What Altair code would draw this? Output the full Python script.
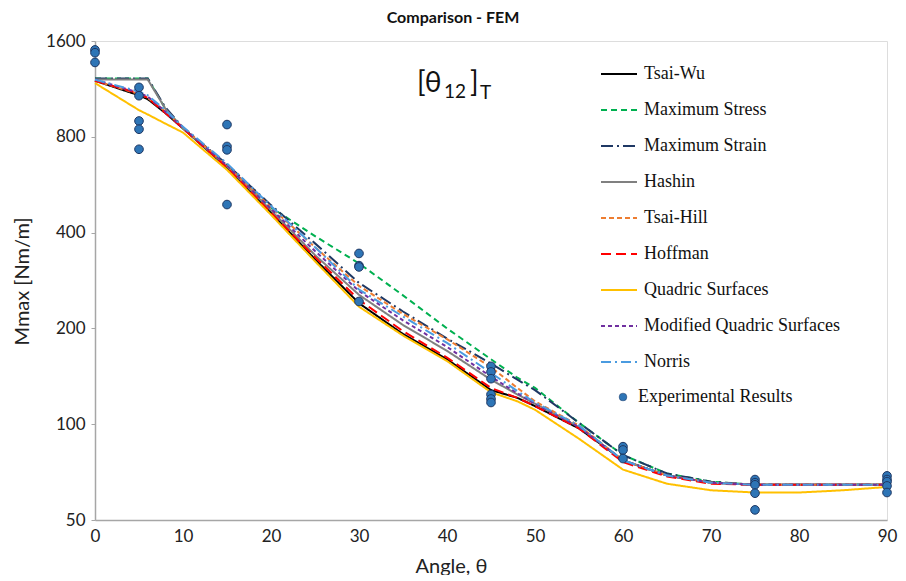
import altair as alt
import pandas as pd

# ---------------- data ----------------
angles = [0, 5, 6, 8, 10, 15, 20, 25, 30, 35, 40, 45, 48, 50, 55, 60, 65, 70, 75, 80, 85, 90]

series_names = ["Tsai-Wu", "Maximum Stress", "Maximum Strain", "Hashin", "Tsai-Hill",
                "Hoffman", "Quadric Surfaces", "Modified Quadric Surfaces", "Norris"]

tsai_wu      = [1200, 1080, 1050, 950, 850, 640, 462, 330, 240, 192, 160, 128, 121, 114, 97, 77, 69, 65.5, 64.5, 64.5, 64.5, 64.5]
max_stress   = [1220, 1220, 1220, 980, 850, 650, 480, 390, 320, 254, 200, 160, 140, 130, 101, 80, 70, 66, 64.5, 64.5, 64.5, 64.5]
max_strain   = [1220, 1220, 1220, 990, 855, 655, 488, 370, 278, 226, 186, 155, 138, 128, 101, 80, 70, 66, 64.5, 64.5, 64.5, 64.5]
hashin       = [1210, 1210, 1210, 980, 850, 645, 470, 340, 255, 205, 170, 138, 124, 116, 98, 77, 69, 65.5, 64.5, 64.5, 64.5, 64.5]
tsai_hill    = [1200, 1090, 1060, 960, 855, 650, 480, 360, 272, 222, 185, 151, 130, 118, 99, 77, 69, 65.5, 64.5, 64.5, 64.5, 64.5]
hoffman      = [1200, 1095, 1060, 950, 850, 640, 462, 335, 246, 196, 162, 130, 121, 114, 97, 76, 68.5, 65, 64.5, 64.5, 64.5, 64.5]
quadric      = [1180, 970, 940, 880, 825, 630, 455, 325, 234, 190, 158, 126, 118, 111, 90, 72, 65, 62, 61, 61, 62, 63.5]
mod_quadric  = [1210, 1100, 1070, 960, 855, 650, 475, 350, 262, 212, 175, 141, 125, 116, 98, 77, 69, 65.5, 64.5, 64.5, 64.5, 64.5]
norris       = [1210, 1110, 1080, 970, 860, 660, 485, 360, 265, 218, 180, 145, 127, 117, 99, 77, 69, 65.5, 64.5, 64.5, 64.5, 64.5]

series_values = [tsai_wu, max_stress, max_strain, hashin, tsai_hill, hoffman, quadric, mod_quadric, norris]

series_colors = ["#000000", "#00B050", "#1F3864", "#808080", "#ED7D31",
                 "#FF0000", "#FFC000", "#7030A0", "#4A9BE0"]
series_dashes = [[1, 0], [6, 4], [12, 4, 2, 4], [1, 0], [5, 3],
                 [10, 5], [1, 0], [4, 3], [10, 4, 2, 4]]

exp_angles = [0, 0, 0,
              5, 5, 5, 5, 5,
              15, 15, 15, 15,
              30, 30, 30, 30,
              45, 45, 45, 45, 45, 45,
              60, 60, 60,
              75, 75, 75, 75, 75,
              90, 90, 90, 90, 90]
exp_values = [1500, 1470, 1370,
              1144, 1077, 897, 845, 731,
              874, 746, 728, 490,
              344, 315, 312, 243,
              152, 146, 139, 124, 120, 117,
              85, 83, 78,
              67, 65.5, 64.5, 60.7, 53.8,
              68.8, 67, 66, 64, 61]

y_ticks = [50, 100, 200, 400, 800, 1600]
x_ticks = [0, 10, 20, 30, 40, 50, 60, 70, 80, 90]

# ---------------- tables ----------------
rows = []
for name, vals in zip(series_names, series_values):
    for a, v in zip(angles, vals):
        rows.append({"angle": a, "M": v, "series": name})
lines_df = pd.DataFrame(rows)
exp_df = pd.DataFrame({"angle": exp_angles, "M": exp_values,
                       "kind": ["Experimental Results"] * len(exp_angles)})

FONT = "Lato"
SERIF = "Liberation Serif"

x_enc = alt.X("angle:Q", scale=alt.Scale(domain=[0, 90], nice=False),
              axis=alt.Axis(values=x_ticks, title="Angle, θ", grid=False, labelFlush=False,
                            labelFont=FONT, labelFontSize=17, labelColor="#222",
                            titleFont=FONT, titleFontSize=20, titleFontWeight="normal",
                            titleColor="#222", domainColor="#A6A6A6", domainWidth=1.5,
                            ticks=False, labelPadding=8,
                            titleX=356, titleY=52, titleBaseline="alphabetic"))
y_enc = alt.Y("M:Q", scale=alt.Scale(type="log", base=2, domain=[50, 1600], nice=False),
              axis=alt.Axis(values=y_ticks, title="Mmax [Nm/m]", grid=False, format="d",
                            labelFlush=False,
                            labelFont=FONT, labelFontSize=17, labelColor="#222",
                            titleFont=FONT, titleFontSize=20, titleFontWeight="normal",
                            titleColor="#222", domainColor="#A6A6A6", domainWidth=1.5,
                            ticks=True, tickSize=4, tickColor="#A6A6A6", labelPadding=6,
                            titleX=-73, titleY=240, titleAngle=-90,
                            titleAlign="center", titleBaseline="middle"))

line_legend = alt.Legend(title=None, orient="none", legendX=505, legendY=14,
                         symbolType="stroke", symbolSize=1296,
                         symbolStrokeWidth=2, rowPadding=8, padding=0, labelOffset=6,
                         labelFont=SERIF, labelFontSize=18, labelColor="#111", labelLimit=300)

lines = alt.Chart(lines_df).mark_line(strokeWidth=2).encode(
    x=x_enc,
    y=y_enc,
    color=alt.Color("series:N",
                    scale=alt.Scale(domain=series_names, range=series_colors),
                    legend=line_legend),
    strokeDash=alt.StrokeDash("series:N",
                              scale=alt.Scale(domain=series_names, range=series_dashes),
                              legend=line_legend),
    order="series:N",
)

points = alt.Chart(exp_df).mark_point(filled=True, size=75, stroke="#1F3864",
                                      strokeWidth=1, opacity=1).encode(
    x="angle:Q",
    y="M:Q",
    fill=alt.Fill("kind:N", scale=alt.Scale(domain=["Experimental Results"], range=["#2E75B6"]),
                  legend=alt.Legend(title=None, orient="none", legendX=505, legendY=347,
                                    symbolType="circle", symbolSize=60,
                                    symbolStrokeColor="#1F3864", symbolStrokeWidth=0.5,
                                    padding=0, labelOffset=6, symbolOffset=14,
                                    labelFont=SERIF, labelFontSize=18, labelColor="#111",
                                    labelLimit=300)),
)

# annotation [θ12]T
ann_main = alt.Chart(pd.DataFrame({"t": ["[θ"]})).mark_text(
    font=FONT, fontSize=28, align="left", baseline="alphabetic", color="#111"
).encode(text="t:N", x=alt.value(322), y=alt.value(51))
ann_sub = alt.Chart(pd.DataFrame({"t": ["12"]})).mark_text(
    font=FONT, fontSize=19, align="left", baseline="alphabetic", color="#111"
).encode(text="t:N", x=alt.value(349), y=alt.value(57))
ann_br = alt.Chart(pd.DataFrame({"t": ["]"]})).mark_text(
    font=FONT, fontSize=28, align="left", baseline="alphabetic", color="#111"
).encode(text="t:N", x=alt.value(375), y=alt.value(51))
ann_T = alt.Chart(pd.DataFrame({"t": ["T"]})).mark_text(
    font=FONT, fontSize=19, align="left", baseline="alphabetic", color="#111"
).encode(text="t:N", x=alt.value(385), y=alt.value(58))

chart = alt.layer(lines, points, ann_main, ann_sub, ann_br, ann_T).properties(
    width=792, height=479,
    autosize=alt.AutoSizeParams(type="none"),
    padding={"left": 87, "top": 33, "right": 11, "bottom": 55},
    title=alt.TitleParams("Comparison - FEM", font=FONT, fontSize=16, fontWeight="bold",
                          color="#111", anchor="middle", dx=-38, offset=6),
).configure_view(stroke="#7FAADC", strokeWidth=1.2).configure(
    background="white"
)

chart.save("out.html", embed_options={"renderer": "svg", "actions": False})
